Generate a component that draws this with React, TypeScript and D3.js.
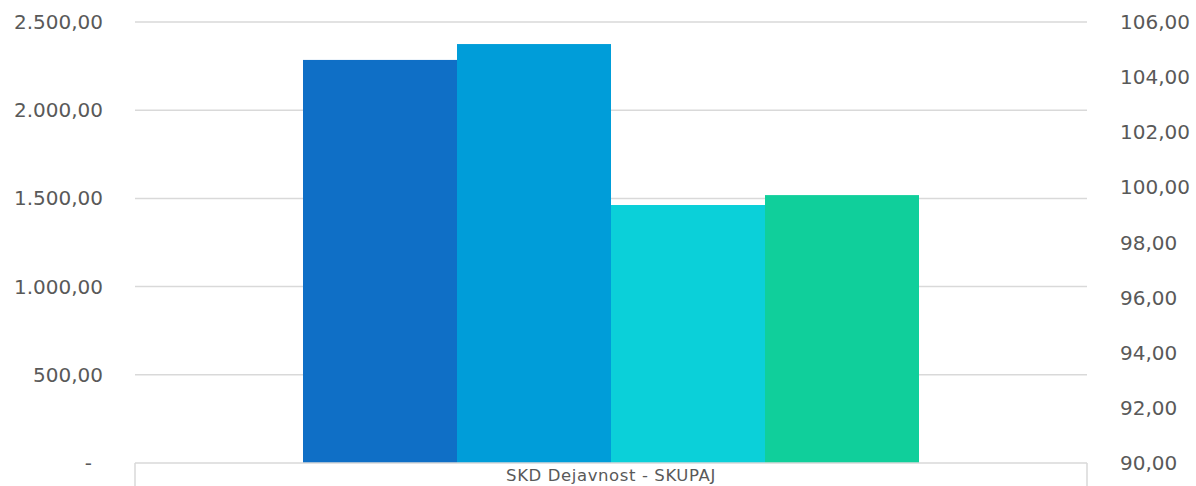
import React from "react";
import * as d3 from "d3";

const categories = ["SKD Dejavnost - SKUPAJ"];
const primarySeries = ["Plača 1", "Plača 2"];
const primaryValues = [2285, 2375];
const secondarySeries = ["Indeks 1", "Indeks 2"];
const secondaryValues = [99.36, 99.72];
const leftTicks = [0, 500, 1000, 1500, 2000, 2500];
const rightTicks = [90, 92, 94, 96, 98, 100, 102, 104, 106];
const colors = ["#0F6FC6", "#009DD9", "#0BD0D9", "#10CF9B"];

const W = 1196, H = 486;
const M = { left: 135, right: 1087, top: 22, bottom: 463 };
const FONT = "'DejaVu Sans', sans-serif";

const fmt = (v: number) => {
  if (v === 0) return "-";
  const s = v.toFixed(2).replace(".", ",");
  const [i, d] = s.split(",");
  return i.replace(/\B(?=(\d{3})+(?!\d))/g, ".") + "," + d;
};

export default function App() {
  const yL = d3.scaleLinear().domain([0, 2500]).range([M.bottom, M.top]);
  const yR = d3.scaleLinear().domain([90, 106]).range([M.bottom, M.top]);
  const x = d3.scaleBand().domain(categories).range([M.left, M.right]).paddingInner(0).paddingOuter(0);
  const allNames = [...primarySeries, ...secondarySeries];
  const bw = x.bandwidth();
  const groupW = bw * (616 / 952);
  const inner = d3.scaleBand().domain(allNames).range([0, groupW]).padding(0);
  const bars = [
    ...primaryValues.map((v, i) => ({ name: primarySeries[i], y: yL(v), base: yL(0) })),
    ...secondaryValues.map((v, i) => ({ name: secondarySeries[i], y: yR(v), base: yR(90) })),
  ];
  return (
    <svg width={W} height={H} style={{ display: "block", position: "absolute", left: 0, top: 0 }}>
      <rect width={W} height={H} fill="#fff" />
      {leftTicks.filter((t) => t > 0).map((t) => (
        <line key={t} x1={M.left} x2={M.right} y1={yL(t)} y2={yL(t)} stroke="#d9d9d9" strokeWidth={1.5} />
      ))}
      {categories.map((c) => {
        const x0 = (x(c) as number) + (bw - groupW) / 2;
        return (
          <g key={c}>
            {bars.map((b, i) => (
              <rect key={b.name} x={x0 + (inner(b.name) as number)} y={b.y} width={inner.bandwidth()} height={b.base - b.y} fill={colors[i]} />
            ))}
            <text x={(x(c) as number) + bw / 2} y={481} textAnchor="middle" fontFamily={FONT} fontSize={16.5} letterSpacing={0.6} fill="#595959">{c}</text>
          </g>
        );
      })}
      <line x1={M.left} x2={M.right} y1={M.bottom} y2={M.bottom} stroke="#d9d9d9" strokeWidth={1.5} />
      <line x1={M.left} x2={M.left} y1={M.bottom} y2={H} stroke="#d9d9d9" strokeWidth={1.5} />
      <line x1={M.right} x2={M.right} y1={M.bottom} y2={H} stroke="#d9d9d9" strokeWidth={1.5} />
      {leftTicks.map((t) => (
        <text key={t} x={t === 0 ? 92 : 103} y={yL(t)} dy="0.35em" textAnchor="end" fontFamily={FONT} fontSize={20} fill="#595959">{fmt(t)}</text>
      ))}
      {rightTicks.map((t) => (
        <text key={t} x={1120} y={yR(t)} dy="0.35em" textAnchor="start" fontFamily={FONT} fontSize={20} fill="#595959">{fmt(t)}</text>
      ))}
    </svg>
  );
}
